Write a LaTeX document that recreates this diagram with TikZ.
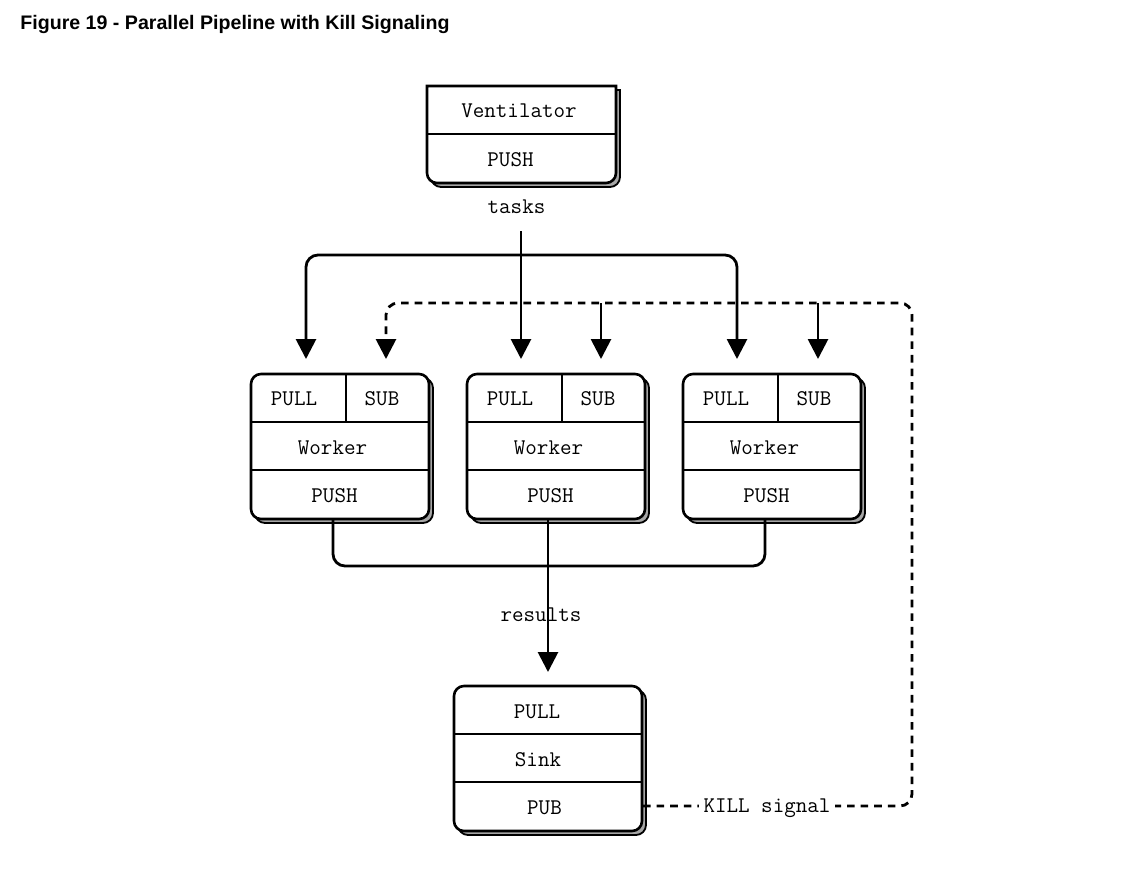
\documentclass[tikz,border=0pt]{standalone}
\usepackage{fontspec}
\newfontfamily\titlefont{Liberation Sans}
\usetikzlibrary{arrows.meta}
\begin{document}
\begin{tikzpicture}[x=0.5pt,y=-0.5pt,
  ttl/.style={font=\titlefont\bfseries\fontsize{9.8pt}{12pt}\selectfont, anchor=base west, inner sep=0},
  lbl/.style={font=\ttfamily\fontsize{11.2pt}{13pt}\selectfont, anchor=base, inner sep=0},
  boxcol/.style={draw, line width=1.3pt, fill=white},
  shdcol/.style={draw, line width=0.9pt, fill=gray!70},
  wbox/.style={rounded corners=5pt, minimum width=89pt, minimum height=72.5pt, inner sep=0, outer sep=0},
  sbox/.style={rounded corners=5pt, minimum width=94pt, minimum height=72.5pt, inner sep=0, outer sep=0},
  ln/.style={line width=1.3pt},
  conn/.style={line width=1.4pt, rounded corners=6pt},
  tip/.style={-{Triangle[width=10pt,length=10pt]}},
  dsh/.style={dash pattern=on 3.8pt off 3pt}
]
\fill[white] (0,0) rectangle (1129,874);
\useasboundingbox (0,0) rectangle (1129,874);

% title
\node[ttl] (title) at (20,29) {Figure 19 - Parallel Pipeline with Kill Signaling};

% ventilator
\path[shdcol] (431,138) -- (431,90) -- (620,90) -- (620,138) [rounded corners=5pt] -- (620,187) -- (431,187) -- cycle;
\path[boxcol] (427,134) -- (427,86) -- (616,86) -- (616,134) [rounded corners=5pt] -- (616,183) -- (427,183) -- cycle;
\draw[ln] (427,134) -- (616,134);
\node[lbl] (vent) at (519,117) {Ventilator};
\node[lbl] (ventpush) at (510.5,166) {PUSH};
\node[lbl] (tasks) at (516.5,213) {tasks};

% workers
\foreach \L/\n in {251/1,467/2,683/3}{
  \node[shdcol, wbox] (s\n) at (\L+93,450.5) {};
  \node[boxcol, wbox] (w\n) at (\L+89,446.5) {};
  \draw[ln] (\L,422) -- (\L+178,422);
  \draw[ln] (\L,470) -- (\L+178,470);
  \draw[ln] (\L+95,374) -- (\L+95,422);
  \node[lbl] (pull\n) at (\L+43,405.5) {PULL};
  \node[lbl] (sub\n) at (\L+131,405.5) {SUB};
  \node[lbl] (worker\n) at (\L+81.5,454) {Worker};
  \node[lbl] (push\n) at (\L+83.5,502) {PUSH};
}

% sink
\node[shdcol, sbox] (s4) at (552,762.5) {};
\node[boxcol, sbox] (sink) at (548,758.5) {};
\draw[ln] (454,734) -- (642,734);
\draw[ln] (454,782) -- (642,782);
\node[lbl] (sinkpull) at (537,718) {PULL};
\node[lbl] (sinkname) at (538,766) {Sink};
\node[lbl] (sinkpub) at (544.5,814) {PUB};

% coordinates
\coordinate (t0) at (521,231);
\coordinate (tj) at (521,255);
\coordinate (a1) at (306,359);
\coordinate (b1) at (386,359);
\coordinate (a2) at (521,359);
\coordinate (b2) at (601,359);
\coordinate (a3) at (737,359);
\coordinate (b3) at (818,359);
\coordinate (k0) at (643,806);
\coordinate (kc) at (912,806);
\coordinate (kt) at (912,303);
\coordinate (j2) at (601,303);
\coordinate (j3) at (818,303);
\coordinate (r1) at (333,519);
\coordinate (r2) at (548,519);
\coordinate (r3) at (765,519);
\coordinate (rm) at (548,566);
\coordinate (r4) at (548,672);

% tasks fan-out
\draw[conn,tip] (t0) -- (a2);
\draw[conn,tip] (tj) -| (a1);
\draw[conn,tip] (tj) -| (a3);

% kill signal
\draw[conn,dsh,tip] (k0) -- (kc) -- (kt) -| (b1);
\draw[conn,tip] (j2) -- (b2);
\draw[conn,tip] (j3) -- (b3);
\node[lbl, fill=white, inner sep=2.5pt] (kill) at (767,812) {KILL signal};

% results
\draw[conn] (r1) |- (rm) -| (r3);
\draw[conn,tip] (r2) -- (r4);
\node[lbl] (results) at (541,621) {results};
\end{tikzpicture}
\end{document}
